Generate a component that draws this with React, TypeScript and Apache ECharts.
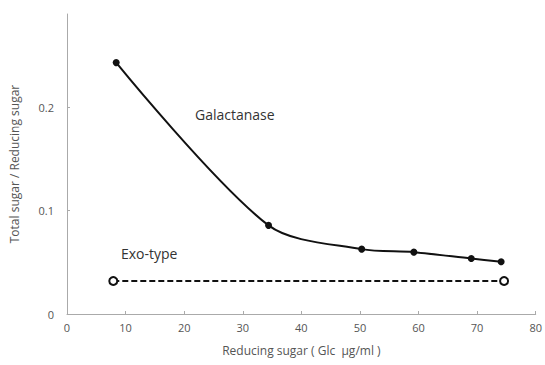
import React, { useEffect, useRef } from "react";
import * as echarts from "echarts";

const galX = [8.4, 34.4, 50.3, 59.2, 69.0, 74.1];
const galY = [0.243, 0.0857, 0.0627, 0.0598, 0.0536, 0.0505];
const exoX = [7.9, 74.6];
const exoY = [0.0319, 0.0319];
const xTicks = [0, 10, 20, 30, 40, 50, 60, 70, 80];
const yTickLabels = ["0", "0.1", "0.2"];

export default function App() {
  const ref = useRef<HTMLDivElement>(null);
  useEffect(() => {
    const chart = echarts.init(ref.current!, null, { renderer: "svg" });
    const font = "'Open Sans', 'Noto Sans', sans-serif";
    chart.setOption({
      animation: false,
      backgroundColor: "#ffffff",
      textStyle: { fontFamily: font },
      grid: { left: 66, right: 7, top: 14, bottom: 51, containLabel: false },
      xAxis: {
        type: "value",
        min: xTicks[0],
        max: xTicks[xTicks.length - 1],
        interval: 10,
        name: "Reducing sugar ( Glc  μg/ml )",
        nameLocation: "middle",
        nameGap: 30,
        nameTextStyle: { color: "#555", fontSize: 12, fontFamily: font },
        axisLine: { lineStyle: { color: "#aaa", width: 1 } },
        axisTick: { show: true, inside: true, length: 3, lineStyle: { color: "#aaa" } },
        axisLabel: { color: "#555", fontSize: 11, margin: 8, fontFamily: font },
        splitLine: { show: false },
      },
      yAxis: {
        type: "value",
        min: 0,
        max: 0.29,
        interval: 0.1,
        name: "Total sugar / Reducing sugar",
        nameLocation: "middle",
        nameGap: 47,
        nameRotate: 90,
        nameTextStyle: { color: "#555", fontSize: 12, fontFamily: font },
        axisLine: { show: true, lineStyle: { color: "#aaa", width: 1 } },
        axisTick: { show: true, inside: true, length: 3, lineStyle: { color: "#aaa" } },
        axisLabel: {
          color: "#555",
          fontSize: 11,
          margin: 13,
          fontFamily: font,
          showMaxLabel: false,
          formatter: (v: number) => {
            const i = Math.round(v * 10);
            return yTickLabels[i] ?? "";
          },
        },
        splitLine: { show: false },
      },
      series: [
        {
          type: "line",
          name: "Galactanase",
          data: galX.map((x, i) => [x, galY[i]]),
          smooth: 0.3,
          symbol: "circle",
          symbolSize: 7,
          itemStyle: { color: "#111" },
          lineStyle: { color: "#111", width: 2 },
          z: 3,
        },
        {
          type: "line",
          name: "Exo-type",
          data: exoX.map((x, i) => [x, exoY[i]]),
          symbol: "circle",
          symbolSize: 8,
          itemStyle: { color: "#fff", borderColor: "#111", borderWidth: 2 },
          lineStyle: { color: "#111", width: 2, type: [6, 3] },
          z: 3,
        },
      ],
      graphic: [
        {
          type: "text",
          left: 195,
          top: 107,
          style: { text: "Galactanase", fill: "#333", fontSize: 14, fontFamily: font },
        },
        {
          type: "text",
          left: 121,
          top: 246,
          style: { text: "Exo-type", fill: "#333", fontSize: 14, fontFamily: font },
        },
      ],
    });
    return () => chart.dispose();
  }, []);
  return (
    <div
      ref={ref}
      style={{ position: "fixed", left: 0, top: 0, width: 545, height: 365 }}
    />
  );
}
